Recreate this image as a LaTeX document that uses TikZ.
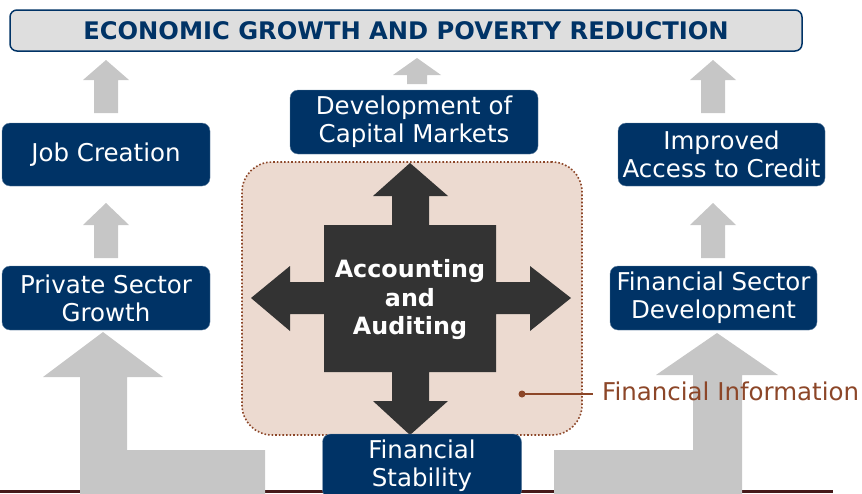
\documentclass[tikz,border=0pt]{standalone}
\usepackage{fontspec}
\setmainfont{DejaVu Sans}
\usepackage{tikz}
\usetikzlibrary{shapes,calc}

\definecolor{navy}{RGB}{0,51,102}
\definecolor{darkarrow}{RGB}{51,51,51}
\definecolor{infobrown}{RGB}{140,70,40}
\definecolor{infofill}{RGB}{236,218,208}
\definecolor{greyarrow}{RGB}{198,198,198}
\definecolor{titlefill}{RGB}{222,222,222}
\definecolor{baseline}{RGB}{70,25,25}

\begin{document}
\begin{tikzpicture}[x=1pt, y=-1pt]
    \tikzstyle{title} = [
      draw=navy,
      line width=1.5pt,
      fill=titlefill,
      rounded corners=7pt,
      anchor=center,
      minimum width=792pt,
      minimum height=41pt,
      text=navy,
      font=\fontsize{24.2}{28}\selectfont\bfseries,
    ]
    \tikzstyle{goal} = [
      fill=navy,
      draw=navy!60,
      rounded corners=8pt,
      anchor=center,
      align=center,
      text=white,
      inner sep=0pt,
      minimum height=63pt,
      font=\fontsize{24.5}{28}\selectfont,
    ]
    \tikzstyle{greyup} = [
      fill=greyarrow,
      draw=none,
    ]
    \tikzstyle{infoline} = [
      draw=infobrown,
      line width=1.2pt,
    ]

    \newcommand{\upblock}[6]{
      \fill[greyup] (#1,#2) -- (#1+#5,#3) -- (#1+#6,#3) -- (#1+#6,#4)
        -- (#1-#6,#4) -- (#1-#6,#3) -- (#1-#5,#3) -- cycle;
    }

    \clip (0,0) rectangle (862,493);

    % base line
    {
      \draw[line width=3pt, draw=baseline] (0,491) -- (833,491);
    }

    % title
    {
      \node[title] (goalTitle) at (406,30.5) {ECONOMIC GROWTH AND POVERTY REDUCTION};
    }

    % grey arrows
    {
      \upblock{106}{60}{80}{113}{23}{12}
      \upblock{417}{58}{75}{84}{24}{10}
      \upblock{713}{60}{80}{113}{23}{12}
      \upblock{106}{203}{225}{258}{23}{12}
      \upblock{713}{203}{225}{258}{23}{12}

      \fill[greyup] (103,332) -- (163,377) -- (127,377) -- (127,450) -- (265,450)
        -- (265,500) -- (80,500) -- (80,377) -- (43,377) -- cycle;
      \fill[greyup] (717,333) -- (778,375) -- (742,375) -- (742,500) -- (554,500)
        -- (554,450) -- (693,450) -- (693,375) -- (656,375) -- cycle;
    }

    % boxes
    {
      \node[goal, minimum width=208pt] (jobBox) at (106,154.5) {Job Creation};
      \node[goal, minimum width=248pt, minimum height=64pt] (capitalBox) at (414,122) {Development of\\Capital Markets};
      \node[goal, minimum width=207pt] (creditBox) at (721.5,154.5) {Improved\\Access to Credit};
      \node[goal, minimum width=208pt, minimum height=64pt] (privateBox) at (106,298) {Private Sector\\Growth};
      \node[goal, minimum width=207pt, minimum height=64pt] (sectorBox) at (713.5,298) {Financial Sector\\Development};
    }

    % financial information
    {
      \node[draw=infobrown, line width=1.6pt, dotted, fill=infofill, rounded corners=30pt,
        minimum width=340pt, minimum height=273pt, anchor=center] (infoArea) at (412,298.5) {};
      \coordinate (infoDot) at (522,394);
      \node[anchor=west, inner xsep=9pt, text=infobrown, font=\fontsize{24.5}{28}\selectfont] (infoLabel) at (593,391) {Financial Information};
      \draw[infoline] (infoDot) -- (infoDot -| infoLabel.west);
      \fill[infobrown] (infoDot) circle (3.5pt);
    }

    % accounting and auditing
    {
      \fill[darkarrow] (410,163) -- (448,196) -- (429,196) -- (429,225) -- (496,225)
        -- (496,282) -- (530,282) -- (530,266) -- (571,298) -- (530,331) -- (530,314)
        -- (496,314) -- (496,372) -- (429,372) -- (429,401) -- (448,401) -- (410,435)
        -- (373,401) -- (392,401) -- (392,372) -- (324,372) -- (324,314) -- (290,314)
        -- (290,331) -- (251,298) -- (290,266) -- (290,282) -- (324,282) -- (324,225)
        -- (392,225) -- (392,196) -- (373,196) -- cycle;
      \node[align=center, text=white, font=\fontsize{23.8}{28.5}\selectfont\bfseries] (core) at (410,300) {Accounting\\and\\Auditing};
    }

    % stability
    {
      \node[goal, minimum width=199pt, minimum height=64pt] (stabilityBox) at (422,466) {Financial\\Stability};
    }
  \end{tikzpicture}
\end{document}
